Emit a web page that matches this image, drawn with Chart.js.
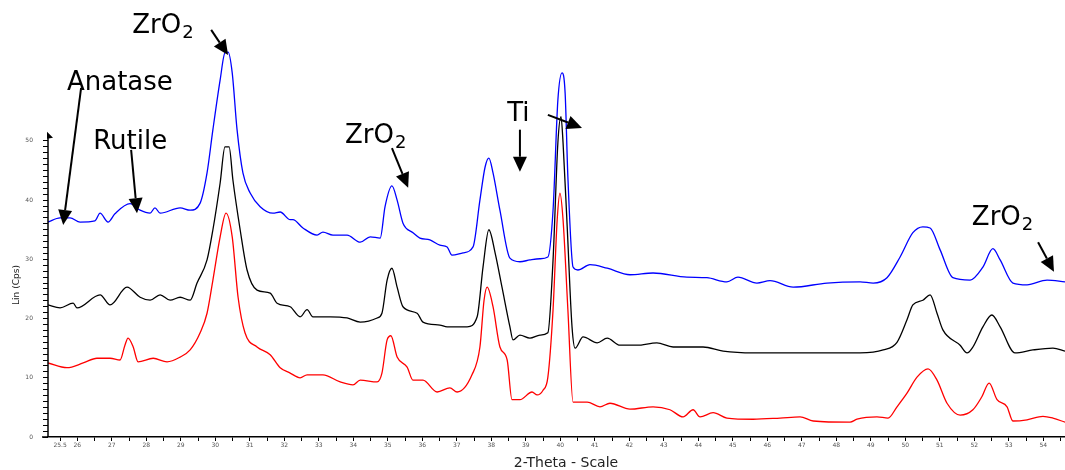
<!DOCTYPE html>
<html lang="en">
<head>
<meta charset="UTF-8" />
<title>XRD pattern</title>
<script src="https://cdn.jsdelivr.net/npm/chart.js@4"></script>
<style>
    * { margin: 0; padding: 0; box-sizing: border-box; }
    body { background: #fff; }
    .chart-container { width: 1065px; height: 470px; position: relative; }
</style>
</head>
<body>
<div class="chart-container">
    <canvas id="xrdChart"></canvas>
</div>
<script>
// 2-theta positions and intensities (Lin Cps)
const xBlue = [25.15, 25.50, 25.79, 26.08, 26.51, 26.66, 26.89, 27.09, 27.53, 27.82, 28.11, 28.25, 28.40, 28.98, 29.27, 29.56, 29.76, 29.93, 30.14, 30.28, 30.37, 30.49, 30.63, 30.80, 31.01, 31.30, 31.67, 31.88, 32.17, 32.25, 32.54, 32.95, 33.12, 33.41, 33.82, 34.20, 34.49, 34.78, 34.92, 35.12, 35.27, 35.44, 35.73, 35.93, 36.22, 36.51, 36.72, 36.86, 37.18, 37.47, 37.67, 37.82, 37.93, 38.05, 38.25, 38.54, 38.83, 39.12, 39.41, 39.64, 39.79, 39.93, 40.05, 40.14, 40.22, 40.37, 40.51, 40.86, 41.36, 42.02, 42.69, 43.67, 44.25, 44.83, 45.15, 45.70, 46.08, 46.75, 47.73, 48.69, 49.07, 49.47, 49.85, 50.22, 50.51, 50.72, 51.01, 51.38, 51.88, 52.25, 52.54, 52.75, 53.12, 53.53, 54.11, 54.63];
const yBlue = [36.3, 37.0, 37.0, 36.3, 36.5, 37.8, 36.3, 37.7, 39.4, 38.3, 37.8, 38.7, 37.8, 38.7, 38.3, 39.5, 44.6, 51.9, 60.3, 64.9, 65.0, 61.5, 51.9, 44.6, 41.2, 38.9, 37.8, 38.0, 36.7, 36.7, 35.3, 34.1, 34.6, 34.1, 34.1, 32.9, 33.8, 33.6, 38.9, 42.4, 40.0, 36.1, 34.5, 33.6, 33.3, 32.4, 32.1, 30.7, 31.1, 32.1, 40.0, 45.6, 47.1, 44.6, 38.3, 30.2, 29.6, 29.9, 30.1, 30.4, 38.3, 56.9, 61.5, 58.1, 43.9, 28.7, 28.2, 29.1, 28.5, 27.4, 27.7, 27.0, 26.9, 26.2, 27.0, 26.0, 26.4, 25.3, 26.0, 26.2, 26.0, 26.9, 30.4, 34.5, 35.5, 35.3, 31.6, 26.9, 26.5, 28.7, 31.8, 29.9, 26.0, 25.7, 26.5, 26.2];

const xBlack = [25.15, 25.50, 25.88, 25.99, 26.66, 26.95, 27.44, 27.82, 28.11, 28.40, 28.69, 28.98, 29.27, 29.47, 29.76, 29.93, 30.14, 30.28, 30.40, 30.51, 30.72, 30.92, 31.21, 31.59, 31.79, 32.17, 32.46, 32.66, 32.83, 33.33, 33.82, 34.20, 34.69, 34.83, 34.98, 35.12, 35.27, 35.44, 35.85, 36.02, 36.51, 36.72, 37.30, 37.59, 37.76, 37.93, 38.11, 38.31, 38.54, 38.63, 38.83, 39.12, 39.41, 39.64, 39.79, 39.93, 40.02, 40.08, 40.20, 40.34, 40.43, 40.66, 41.07, 41.36, 41.73, 42.22, 42.80, 43.27, 44.14, 44.72, 45.59, 46.37, 47.73, 48.69, 49.36, 49.76, 50.05, 50.22, 50.51, 50.72, 50.92, 51.09, 51.59, 51.79, 51.96, 52.25, 52.51, 52.75, 53.18, 53.70, 54.28, 54.63];
const yBlack = [22.3, 21.8, 22.6, 21.8, 24.0, 22.3, 25.3, 23.6, 23.1, 24.0, 23.1, 23.6, 23.1, 26.0, 29.9, 35.0, 42.9, 49.0, 49.0, 43.4, 35.0, 28.2, 24.8, 24.3, 22.6, 22.0, 20.3, 21.5, 20.3, 20.3, 20.1, 19.4, 20.1, 20.9, 26.5, 28.5, 25.3, 22.0, 20.9, 19.4, 18.9, 18.6, 18.6, 20.3, 28.7, 35.0, 31.1, 25.3, 18.6, 16.4, 17.2, 16.7, 17.2, 17.6, 29.9, 49.7, 54.1, 49.7, 35.5, 18.6, 15.0, 16.9, 15.9, 16.7, 15.5, 15.5, 15.9, 15.2, 15.2, 14.5, 14.2, 14.2, 14.2, 14.2, 14.7, 16.0, 19.8, 22.3, 23.1, 24.0, 20.9, 18.1, 15.5, 14.2, 15.2, 18.6, 20.6, 18.6, 14.2, 14.7, 15.0, 14.5];

const xRed = [25.15, 25.70, 26.17, 26.57, 26.95, 27.24, 27.38, 27.47, 27.62, 27.76, 28.20, 28.60, 28.98, 29.27, 29.56, 29.76, 29.93, 30.14, 30.31, 30.49, 30.66, 30.86, 31.21, 31.59, 31.88, 32.17, 32.46, 32.66, 33.12, 33.62, 33.99, 34.20, 34.69, 34.83, 34.98, 35.09, 35.27, 35.56, 35.73, 36.02, 36.43, 36.80, 37.01, 37.44, 37.67, 37.79, 37.88, 38.05, 38.25, 38.46, 38.60, 38.83, 39.18, 39.33, 39.50, 39.64, 39.79, 39.91, 39.99, 40.08, 40.22, 40.37, 40.78, 41.15, 41.44, 42.02, 42.69, 43.18, 43.56, 43.85, 44.05, 44.43, 44.83, 45.59, 46.37, 46.95, 47.33, 48.40, 48.60, 49.18, 49.50, 49.76, 50.05, 50.34, 50.66, 50.92, 51.21, 51.59, 51.96, 52.22, 52.43, 52.66, 52.95, 53.12, 53.53, 53.99, 54.28, 54.63];
const yRed = [12.5, 11.7, 12.5, 13.3, 13.3, 13.0, 15.5, 16.7, 15.2, 12.7, 13.3, 12.7, 13.5, 14.7, 17.6, 20.9, 26.5, 33.8, 37.8, 33.8, 23.6, 17.6, 15.2, 13.9, 11.7, 10.8, 10.0, 10.5, 10.5, 9.3, 8.8, 9.6, 9.3, 10.8, 16.4, 17.1, 13.5, 11.8, 9.6, 9.6, 7.6, 8.3, 7.6, 10.5, 15.2, 23.1, 25.3, 22.0, 15.2, 13.0, 6.3, 6.3, 7.6, 7.1, 7.9, 10.1, 21.5, 36.7, 41.2, 36.7, 21.5, 5.9, 5.9, 5.1, 5.7, 4.7, 5.1, 4.6, 3.4, 4.6, 3.4, 4.1, 3.2, 3.0, 3.2, 3.4, 2.7, 2.5, 3.0, 3.4, 3.2, 5.1, 7.4, 10.1, 11.5, 9.6, 5.7, 3.7, 4.6, 6.8, 9.1, 6.3, 5.1, 2.7, 2.9, 3.5, 3.2, 2.5];

const xTickLabels = ["25.5", "26", "27", "28", "29", "30", "31", "32", "33", "34", "35", "36", "37", "38", "39", "40", "41", "42", "43", "44", "45", "46", "47", "48", "49", "50", "51", "52", "53", "54"];
const yTickLabels = ["0", "10", "20", "30", "40", "50"];

// peak labels: [text, subscript, x, y] and arrows: [x1, y1, x2, y2] in data units
const peakLabels = [
    ["ZrO", "2", 27.59, 68.2],
    ["Anatase", "", 25.70, 58.6],
    ["Rutile", "", 26.46, 48.6],
    ["ZrO", "2", 33.76, 49.7],
    ["Ti", "", 38.46, 53.4],
    ["ZrO", "2", 51.93, 35.8],
];
const peakArrows = [
    [29.88, 68.75, 30.37, 64.5],
    [26.11, 58.95, 25.59, 35.8],
    [27.56, 48.5, 27.73, 37.8],
    [35.12, 48.8, 35.59, 42.1],
    [38.83, 51.9, 38.83, 44.8],
    [39.64, 54.4, 40.63, 52.2],
    [53.85, 32.9, 54.31, 27.9],
];

function toPoints(xs, ys) {
    return xs.map((x, i) => ({ x: x, y: ys[i] }));
}

const xMinor = [];
for (let v = 25.5; v <= 54.5; v += 0.5) xMinor.push(v);
const yMinor = [];
for (let v = 0; v <= 50; v++) yMinor.push(v);

function drawArrow(ctx, x1, y1, x2, y2) {
    const ang = Math.atan2(y2 - y1, x2 - x1);
    const len = 15, half = 7;
    const bx = x2 - len * Math.cos(ang), by = y2 - len * Math.sin(ang);
    ctx.beginPath();
    ctx.moveTo(x1, y1);
    ctx.lineTo(bx, by);
    ctx.lineWidth = 2;
    ctx.strokeStyle = "#000";
    ctx.stroke();
    ctx.beginPath();
    ctx.moveTo(x2, y2);
    ctx.lineTo(bx + half * Math.sin(ang), by - half * Math.cos(ang));
    ctx.lineTo(bx - half * Math.sin(ang), by + half * Math.cos(ang));
    ctx.closePath();
    ctx.fillStyle = "#000";
    ctx.fill();
}

const decorations = {
    id: "decorations",
    afterDraw(chart) {
        const ctx = chart.ctx;
        const xs = chart.scales.x, ys = chart.scales.y;
        ctx.save();

        // y axis line with arrow head
        const ax = chart.chartArea.left;
        const yTop = ys.getPixelForValue(51.4);
        ctx.beginPath();
        ctx.moveTo(ax, ys.getPixelForValue(0));
        ctx.lineTo(ax, yTop + 4);
        ctx.lineWidth = 1.5;
        ctx.strokeStyle = "#000";
        ctx.stroke();
        ctx.beginPath();
        ctx.moveTo(ax + 5, yTop + 5);
        ctx.lineTo(ax - 1, yTop - 1);
        ctx.lineTo(ax - 1, yTop + 6);
        ctx.closePath();
        ctx.fillStyle = "#000";
        ctx.fill();

        // x axis runs a little left of the y axis
        ctx.beginPath();
        ctx.moveTo(ax - 6, ys.getPixelForValue(0));
        ctx.lineTo(ax, ys.getPixelForValue(0));
        ctx.stroke();

        // axis titles
        ctx.fillStyle = "#222";
        ctx.font = "14px 'DejaVu Sans'";
        ctx.textAlign = "center";
        ctx.textBaseline = "middle";
        ctx.fillText("2-Theta - Scale", 566, 463);
        ctx.save();
        ctx.translate(17, 285);
        ctx.rotate(-Math.PI / 2);
        ctx.font = "9px 'DejaVu Sans'";
        ctx.fillText("Lin (Cps)", 0, 0);
        ctx.restore();

        // peak labels
        ctx.fillStyle = "#000";
        ctx.textAlign = "left";
        ctx.textBaseline = "alphabetic";
        peakLabels.forEach(([txt, sub, x, y]) => {
            const px = xs.getPixelForValue(x), py = ys.getPixelForValue(y);
            ctx.font = "26px 'DejaVu Sans'";
            ctx.fillText(txt, px, py);
            if (sub) {
                const w = ctx.measureText(txt).width;
                ctx.font = "18px 'DejaVu Sans'";
                ctx.fillText(sub, px + w + 1, py + 5);
            }
        });
        peakArrows.forEach(([x1, y1, x2, y2]) => {
            drawArrow(ctx,
                xs.getPixelForValue(x1), ys.getPixelForValue(y1),
                xs.getPixelForValue(x2), ys.getPixelForValue(y2));
        });
        ctx.restore();
    },
};

const ctx = document.getElementById("xrdChart").getContext("2d");
new Chart(ctx, {
    type: "line",
    data: {
        datasets: [
            { label: "blue", data: toPoints(xBlue, yBlue), borderColor: "#0000ff" },
            { label: "black", data: toPoints(xBlack, yBlack), borderColor: "#000000" },
            { label: "red", data: toPoints(xRed, yRed), borderColor: "#ff0000" },
        ],
    },
    options: {
        responsive: true,
        maintainAspectRatio: false,
        animation: false,
        layout: { padding: 0, autoPadding: false },
        elements: {
            point: { radius: 0 },
            line: { borderWidth: 1.3, cubicInterpolationMode: "monotone" },
        },
        plugins: {
            legend: { display: false },
            tooltip: { enabled: false },
        },
        scales: {
            x: {
                type: "linear",
                min: 25.15,
                max: 54.63,
                afterBuildTicks: (scale) => {
                    scale.ticks = xMinor.map((v) => ({ value: v }));
                },
                afterFit: (scale) => {
                    scale.height = 33;
                    scale.paddingLeft = 0;
                    scale.paddingRight = 0;
                },
                ticks: {
                    autoSkip: false,
                    maxRotation: 0,
                    padding: 1,
                    color: "#555",
                    font: { size: 6, family: "DejaVu Sans" },
                    callback: (v) => {
                        const s = String(v);
                        return xTickLabels.includes(s) ? s : "";
                    },
                },
                grid: {
                    drawOnChartArea: false,
                    drawTicks: true,
                    tickLength: 4,
                    color: "#000",
                },
                border: { display: true, color: "#000", width: 1.5 },
            },
            y: {
                min: 0,
                max: 73.8,
                afterBuildTicks: (scale) => {
                    scale.ticks = yMinor.map((v) => ({ value: v }));
                },
                afterFit: (scale) => {
                    scale.width = 48;
                    scale.paddingTop = 0;
                    scale.paddingBottom = 0;
                },
                ticks: {
                    autoSkip: false,
                    padding: 10,
                    color: "#555",
                    font: { size: 6, family: "DejaVu Sans" },
                    callback: (v) => {
                        const s = String(v);
                        return yTickLabels.includes(s) ? s : "";
                    },
                },
                grid: {
                    drawOnChartArea: false,
                    drawTicks: true,
                    tickLength: 5,
                    color: "#000",
                },
                border: { display: false },
            },
        },
    },
    plugins: [decorations],
});
</script>
</body>
</html>
